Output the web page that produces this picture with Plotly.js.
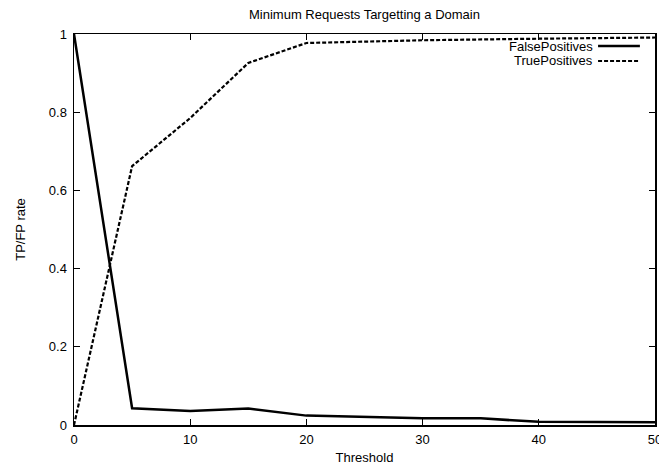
<!DOCTYPE html>
<html>
<head>
<meta charset="utf-8">
<script src="https://cdn.plot.ly/plotly-3.0.1.min.js"></script>
<style>html,body{margin:0;padding:0;background:#fff;}#chart{width:659px;height:465px;}</style>
</head>
<body>
<div id="chart"></div>
<script>
const fpThreshold = [0, 5, 10, 15, 20, 30, 35, 40, 50];
const fpRate = [1.0, 0.043, 0.036, 0.042, 0.024, 0.017, 0.017, 0.008, 0.007];
const tpThreshold = [0, 5, 10, 15, 20, 30, 40, 50];
const tpRate = [0.0, 0.662, 0.785, 0.926, 0.977, 0.984, 0.988, 0.991];
const xTicks = [0, 10, 20, 30, 40, 50];
const yTicks = [0, 0.2, 0.4, 0.6, 0.8, 1];
const yTickText = ['0', '0.2', '0.4', '0.6', '0.8', '1'];
const seriesNames = ['FalsePositives', 'TruePositives'];

const font = {family: 'Liberation Sans, Arial, Helvetica, sans-serif', size: 13, color: '#000'};

const traces = [
  {x: fpThreshold, y: fpRate, name: seriesNames[0], mode: 'lines', line: {color: '#000', width: 2.5}, showlegend: false},
  {x: tpThreshold, y: tpRate, name: seriesNames[1], mode: 'lines', line: {color: '#000', width: 2.2, dash: '4px,2px'}, showlegend: false}
];

const axisCommon = {
  showline: true, linecolor: '#000', linewidth: 1.5, mirror: 'ticks',
  ticks: 'inside', ticklen: 6, tickcolor: '#000', tickwidth: 1,
  showgrid: false, zeroline: false, tickfont: font, fixedrange: true,
  ticklabeloverflow: 'allow', automargin: false
};

const layout = {
  width: 659, height: 465,
  margin: {l: 74, r: 4, t: 34, b: 40},
  paper_bgcolor: '#fff', plot_bgcolor: '#fff',
  font: font,
  title: {text: 'Minimum Requests Targetting a Domain', font: font, xref: 'paper', x: 0.5, xanchor: 'center', y: 0.968, yanchor: 'middle'},
  xaxis: Object.assign({}, axisCommon, {range: [0, 50], tickvals: xTicks, ticklabelstandoff: 2, title: {text: 'Threshold', font: font, standoff: 8}}),
  yaxis: Object.assign({}, axisCommon, {range: [0, 1], tickvals: yTicks, ticktext: yTickText, ticklabelstandoff: 3, title: {text: 'TP/FP rate', font: font, standoff: 20}}),
  annotations: [
    {xref: 'paper', yref: 'paper', x: 0.897, y: 0.969, xanchor: 'right', yanchor: 'middle', text: seriesNames[0], showarrow: false, font: font},
    {xref: 'paper', yref: 'paper', x: 0.897, y: 0.931, xanchor: 'right', yanchor: 'middle', text: seriesNames[1], showarrow: false, font: font}
  ],
  shapes: [
    {type: 'line', xref: 'paper', yref: 'paper', x0: 0.902, x1: 0.974, y0: 0.969, y1: 0.969, line: {color: '#000', width: 2.5}},
    {type: 'line', xref: 'paper', yref: 'paper', x0: 0.902, x1: 0.974, y0: 0.931, y1: 0.931, line: {color: '#000', width: 2.2, dash: '4px,2px'}}
  ]
};

Plotly.newPlot('chart', traces, layout, {displayModeBar: false, staticPlot: true});
</script>
</body>
</html>
